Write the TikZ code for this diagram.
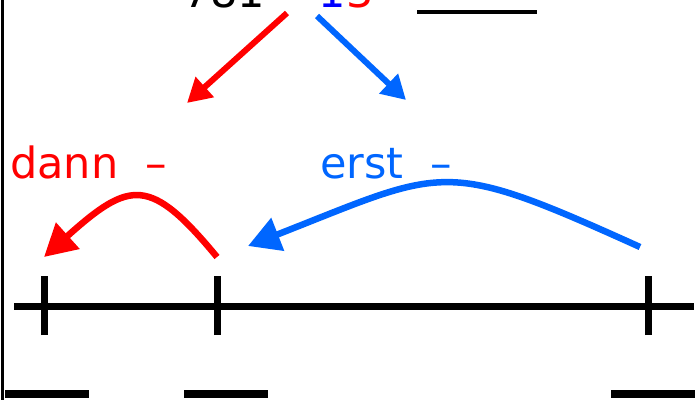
\documentclass[tikz,border=0pt]{standalone}
\usepackage{fontspec}
\setmainfont{DejaVu Sans}
\usepackage{xcolor}
\definecolor{subred}{RGB}{255,0,0}
\definecolor{subblue}{RGB}{0,102,255}
\definecolor{digitblue}{RGB}{0,0,255}
\usetikzlibrary{arrows.meta}

\begin{document}
\begin{tikzpicture}[x=1pt, y=-1pt,
  lbl/.style={inner sep=0pt, anchor=base west, font=\fontsize{43}{50}\selectfont},
  split/.style={line width=6pt, -{Triangle[length=24pt, width=26pt]}},
  hop/.style={line width=6.5pt, -{Triangle[length=32pt, width=34pt]}},
  tickline/.style={line width=7pt},
  blank/.style={line width=8.5pt}
]
\useasboundingbox (0,0) rectangle (696,400);

% task and blank
\node[lbl] (task) at (183,7) {781 −\hspace{4pt}\textcolor{digitblue}{1}\textcolor{subred}{3} =};
\draw[line width=4pt] (417,12) -- (537,12);
\draw[line width=3pt] (2,0) -- (2,400);

% split of 13
\coordinate (redfrom) at (287,13);
\coordinate (redto) at (187,103);
\coordinate (bluefrom) at (317,16);
\coordinate (blueto) at (406,100);
\draw[split, subred] (redfrom) -- (redto);
\draw[split, subblue] (bluefrom) -- (blueto);

\node[lbl, text=subred] (dann) at (10,178) {dann \ –};
\node[lbl, text=subblue] (erst) at (320,178) {erst \ –};

% number line
\coordinate (t0) at (44,306);
\coordinate (t1) at (217,306);
\coordinate (t2) at (648,306);
\draw[tickline] (14,306) -- (694,306);
\foreach \t in {t0,t1,t2}
  \draw[tickline] ([yshift=-29pt]\t) -- ([yshift=30pt]\t);

% jumps
\coordinate (bluestart) at (640,247);
\coordinate (blueend) at (248,246);
\coordinate (redstart) at (217,257);
\coordinate (redend) at (44,257);
\draw[hop, subblue] (bluestart) .. controls (441,157) and (447,168) .. (blueend);
\draw[hop, subred] (redstart) .. controls (150,176) and (130,180) .. (redend);

% answer blanks
\draw[blank] (5,394) -- (89,394);
\draw[blank] (184,394) -- (268,394);
\draw[blank] (611,394) -- (695,394);
\end{tikzpicture}
\end{document}
